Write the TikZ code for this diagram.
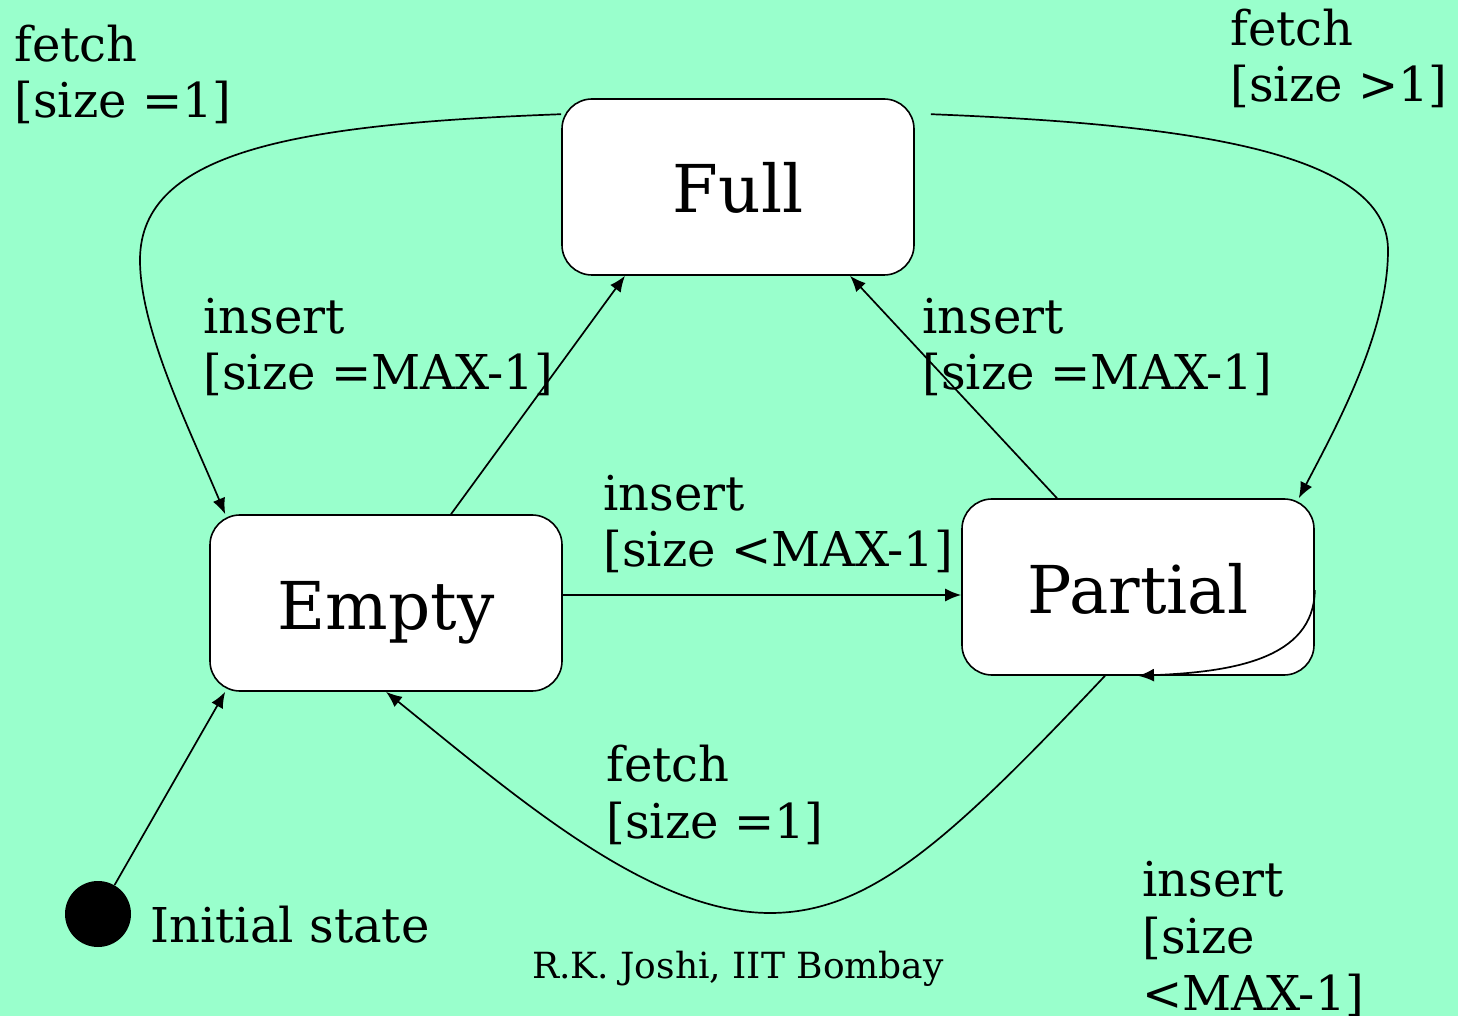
\documentclass[tikz,border=0pt]{standalone}
\usepackage{fontspec}
\setmainfont{DejaVu Serif}
\usetikzlibrary{arrows.meta,calc}
\definecolor{mint}{RGB}{153,255,204}
\tikzset{
  state/.style={draw, fill=white, line width=0.8pt, rounded corners=15pt,
    minimum width=176pt, minimum height=88pt, inner sep=0pt,
    text height=26pt, text depth=0pt,
    font=\fontsize{33}{38}\selectfont},
  guard/.style={anchor=base west, align=left, inner sep=0pt,
    font=\fontsize{24}{28.3}\selectfont},
  trans/.style={line width=0.85pt, -{Latex[length=8pt,width=6.5pt]}},
  start/.style={circle, fill=black, minimum size=33pt, inner sep=0pt}
}
\begin{document}
\begin{tikzpicture}[x=0.5pt,y=-0.5pt]
  \useasboundingbox (0,0) rectangle (1458,1016);
  \clip (0,0) rectangle (1458,1016);
  \fill[mint] (0,0) rectangle (1458,1016);

  % states
  \node[state] (full) at (738,187) {Full};
  \node[state] (empty) at (386,603) {Empty};
  \node[state] (partial) at (1138,587) {Partial};
  \node[start] (init) at (98,914) {};
  \node[anchor=base west, inner sep=0pt, font=\fontsize{24}{28}\selectfont]
    (initlbl) at (150,942) {Initial state};

  % transitions
  \draw[trans] (init) -- ($(empty.south west)+(16,0)$);
  \draw[trans] ($(empty.north)+(65,0)$) -- ($(full.south)+(-113,0)$);
  \draw[trans] ($(partial.north)+(-81,0)$) -- ($(full.south)+(112,0)$);
  \draw[trans] ($(empty.east)+(0,-8)$) -- ($(partial.west)+(0,8)$);
  \draw[trans] ($(full.north west)+(0,16)$)
    .. controls (300,124) and (140,150) .. (140,260)
    .. controls (140,330) and (190,430) .. ($(empty.north west)+(16,0)$);
  \draw[trans] ($(full.north east)+(16,16)$)
    .. controls (1180,124) and (1388,150) .. (1388,250)
    .. controls (1388,330) and (1340,420) .. ($(partial.north east)+(-16,0)$);
  \draw[trans] ($(partial.south)+(-33,0)$)
    .. controls (950,840) and (870,913) .. (770,913)
    .. controls (650,913) and (520,800) .. (empty.south);
  \draw[trans] ($(partial.east)+(0,3)$)
    .. controls (1314,660) and (1230,672) .. (partial.south);

  % guards (anchored at the baseline of their last line)
  \node[guard] (g1) at (14,118) {fetch\\{[}size =1]};
  \node[guard] (g2) at (1230,102) {fetch\\{[}size >1]};
  \node[guard] (g3) at (203,390) {insert\\{[}size =MAX-1]};
  \node[guard] (g4) at (922,390) {insert\\{[}size =MAX-1]};
  \node[guard] (g5) at (603,567) {insert\\{[}size <MAX-1]};
  \node[guard] (g6) at (606,838) {fetch\\{[}size =1]};
  \node[guard] (g7) at (1142,1010) {insert\\{[}size\\<MAX-1]};

  \node[anchor=base, inner sep=0pt, font=\fontsize{18}{21}\selectfont]
    (credit) at (738,978) {R.K. Joshi, IIT Bombay};
\end{tikzpicture}
\end{document}
